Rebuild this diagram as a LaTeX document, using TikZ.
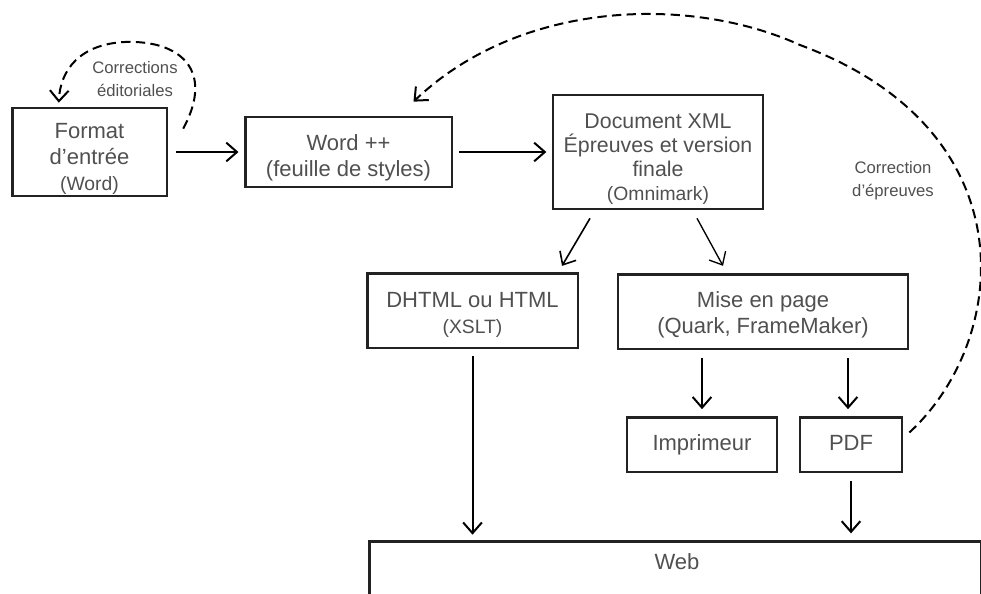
\documentclass[tikz,border=0pt]{standalone}
\usepackage{fontspec}
\setmainfont{Liberation Sans}
\usetikzlibrary{arrows.meta,calc}

\newcommand{\pth}[1]{{\fontsize{14.5}{19.5}\selectfont #1}}
\newcommand{\lift}[1]{\rule{0pt}{#1pt}}

\tikzset{every picture/.style={line width=0.75pt}}
\tikzset{
	box/.style={draw={rgb, 255:red, 34; green, 34; blue, 34}, line width=2pt, inner sep=0pt, align=center,
		text={rgb, 255:red, 80; green, 80; blue, 80}, font=\fontsize{16.5}{19.5}\selectfont},
	note/.style={inner sep=0pt, align=center, text={rgb, 255:red, 80; green, 80; blue, 80}, font=\fontsize{12.5}{17}\selectfont},
	flow/.style={line width=1.5pt, -{Straight Barb[length=8pt,width=14pt]}},
	back/.style={flow, dash pattern=on 7pt off 4pt}
}

\begin{document}
\begin{tikzpicture}[x=0.75pt,y=0.75pt,yscale=-1,xscale=1]
	\useasboundingbox (0,0) rectangle (981,593);

	%Shape: Rectangle [fmt]
	\node[box, minimum width=116pt, minimum height=66pt] (fmt) at (89.5,152) {\lift{21}Format\\d'entrée\\\pth{(Word)}};
	%Shape: Rectangle [word]
	\node[box, minimum width=155pt, minimum height=52.5pt] (word) at (348.5,152) {\lift{21}Word ++\\(feuille de styles)};
	%Shape: Rectangle [xml]
	\node[box, minimum width=157.5pt, minimum height=85.5pt, font=\fontsize{16}{18}\selectfont] (xml) at (658,152) {\lift{21}Document XML\\Épreuves et version\\finale\\\pth{(Omnimark)}};
	%Shape: Rectangle [dhtml]
	\node[box, minimum width=158pt, minimum height=56pt] (dhtml) at (472.5,310.5) {\lift{18}DHTML ou HTML\\\pth{(XSLT)}};
	%Shape: Rectangle [mise]
	\node[box, minimum width=217.5pt, minimum height=56pt] (mise) at (763,311.5) {\lift{17}Mise en page\\(Quark, FrameMaker)};
	%Shape: Rectangle [impr]
	\node[box, minimum width=112.5pt, minimum height=41pt] (impr) at (702,444.5) {\lift{13}Imprimeur};
	%Shape: Rectangle [pdf]
	\node[box, minimum width=76.5pt, minimum height=41pt] (pdf) at (851,444.5) {\rule[-2.5pt]{0pt}{2.5pt}PDF};
	%Shape: Rectangle [web]
	\node[box, minimum width=459pt, minimum height=60pt, anchor=north west] (web) at (368,540) {};
	\node[box, draw=none] (weblbl) at (677,562) {Web};

	% Text Node
	\node[note] (lblcorr) at (135,79) {Corrections\\éditoriales};
	% Text Node
	\node[note] (lblepr) at (893,181) {Correction\\d'épreuves};

	%Straight Lines
	\draw[flow, shorten <=6pt, shorten >=4pt] (fmt.east) -- (word.west);
	\draw[flow, shorten <=4.5pt, shorten >=4pt] (word.east) -- (xml.west);
	\draw[flow, line width=1.2pt] ($(xml.south)+(-68,8)$) -- ($(dhtml.north)+(89.5,-6)$);
	\draw[flow, line width=1pt] ($(xml.south)+(39,8)$) -- ($(mise.north)+(-40,-7)$);
	\draw[flow, shorten <=5pt, shorten >=4pt] (dhtml.south) -- (dhtml.south |- web.north);
	\draw[flow, shorten <=6pt, shorten >=5pt] (impr.north |- mise.south) -- (impr.north);
	\draw[flow, shorten <=6pt, shorten >=5pt] ($(pdf.north |- mise.south)+(-3,0)$) -- ($(pdf.north)+(-3,0)$);
	\draw[flow, shorten <=6pt, shorten >=5pt] (pdf.south) -- (pdf.south |- web.north);

	%Curves (dashed returns)
	\coordinate (loopstart) at ($(fmt.north east)+(15,22)$);
	\coordinate (loopend) at ($(fmt.north west)+(48,-4)$);
	\draw[back] (loopstart) .. controls (215,70) and (180,40) .. (125,42) .. controls (80,44) and (60,70) .. (loopend);
	\coordinate (eprstart) at ($(pdf.east)+(6,-12)$);
	\coordinate (eprend) at ($(word.north)+(65,-14)$);
	\draw[back] (eprstart) .. controls (1010,340) and (1030,130) .. (800,45) .. controls (690,-5) and (520,0) .. (eprend);

\end{tikzpicture}
\end{document}
